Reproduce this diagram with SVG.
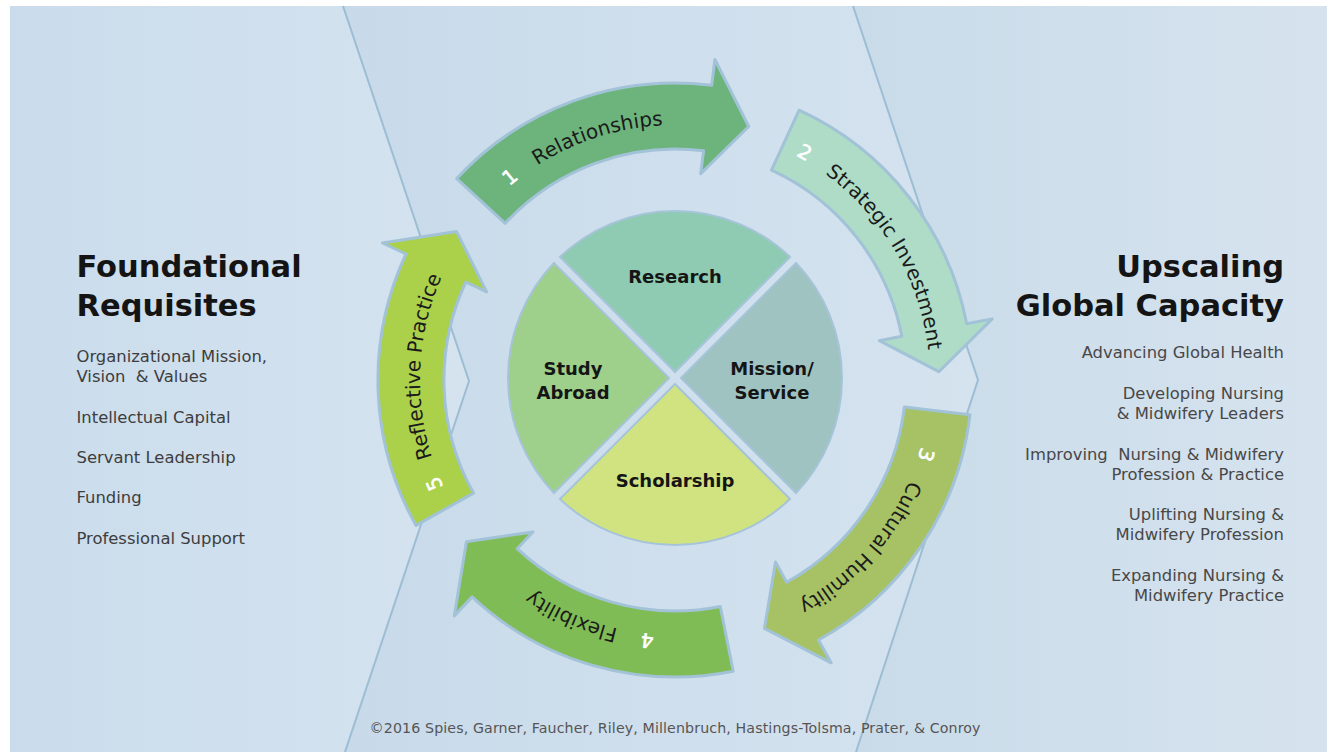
<svg xmlns="http://www.w3.org/2000/svg" width="1328" height="752" viewBox="0 0 1328 752">
<defs>
<style>
.f{font-family:"DejaVu Sans","Liberation Sans",sans-serif}
.title{font-weight:bold;font-size:30.5px;fill:#141414}
.item{font-size:16.4px;fill:#3d3d3d}
.itemR{font-size:16.4px;fill:#484848;text-anchor:end}
.pie{font-weight:bold;font-size:18px;fill:#151515;text-anchor:middle}
.lbl{font-size:20px;fill:#1a1a1a}
.num{font-size:20px;fill:#ffffff;stroke:#ffffff;stroke-width:0.6}
.arrow{stroke:#a2c2d8;stroke-width:3;stroke-linejoin:round}
.slice{stroke:#a6c4d9;stroke-width:2}
.edge{fill:none;stroke:#9cbdd3;stroke-width:2}
.copy{font-size:14.2px;fill:#555555;text-anchor:middle}
</style>
<linearGradient id="gL" gradientUnits="userSpaceOnUse" x1="10" y1="0" x2="470" y2="0">
<stop offset="0" stop-color="#cadcec"/><stop offset="1" stop-color="#d5e3ef"/>
</linearGradient>
<linearGradient id="gM" gradientUnits="userSpaceOnUse" x1="345" y1="0" x2="978" y2="0">
<stop offset="0" stop-color="#c8daea"/><stop offset="1" stop-color="#d5e3ef"/>
</linearGradient>
<linearGradient id="gR" gradientUnits="userSpaceOnUse" x1="856" y1="0" x2="1326" y2="0">
<stop offset="0" stop-color="#c9dbe9"/><stop offset="1" stop-color="#d6e3ef"/>
</linearGradient>
<path id="ring" d="M930,380 A255,255 0 1 1 420,380 A255,255 0 1 1 930,380"/>
</defs>

<rect x="0" y="0" width="1328" height="752" fill="#ffffff"/>
<g id="background">
<polygon points="10,6 343,6 469,381 345,752 10,752" fill="url(#gL)"/>
<polygon points="343,6 853,6 978,380 856,752 345,752 469,381" fill="url(#gM)"/>
<polygon points="853,6 1327,6 1327,752 856,752 978,380" fill="url(#gR)"/>
<polyline class="edge" points="343,6 469,381 345,752"/>
<polyline class="edge" points="853,6 978,380 856,752"/>
</g>

<g id="connectors">
<g id="arrow-5">
<path class="arrow" fill="#abd04a" d="M416.0,525.4 A297,297 0 0 1 406.0,254.0 L382.5,243.0 L456.6,231.6 L486.6,291.8 L465.8,282.0 A231,231 0 0 0 473.5,493.1 Z"/>
</g>
<g id="arrow-1">
<path class="arrow" fill="#6cb47c" d="M456.7,178.6 A297,297 0 0 1 711.7,85.3 L714.9,59.5 L748.7,126.5 L700.7,173.6 L703.6,150.8 A231,231 0 0 0 505.2,223.3 Z"/>
</g>
<g id="arrow-2">
<path class="arrow" fill="#aedcc6" d="M799.1,110.2 A297,297 0 0 1 966.7,323.8 L992.2,318.9 L938.9,371.7 L879.3,340.7 L901.8,336.3 A231,231 0 0 0 771.5,170.1 Z"/>
</g>
<g id="arrow-3">
<path class="arrow" fill="#a6c264" d="M970.0,414.7 A297,297 0 0 1 818.5,640.0 L831.1,662.8 L764.4,628.4 L775.5,562.1 L786.6,582.2 A231,231 0 0 0 904.4,407.0 Z"/>
</g>
<g id="arrow-4">
<path class="arrow" fill="#80bc55" d="M733.2,671.2 A297,297 0 0 1 472.1,596.9 L454.3,615.9 L466.4,541.8 L532.9,531.9 L517.2,548.7 A231,231 0 0 0 720.3,606.5 Z"/>
</g>
</g>

<g id="arrow-labels" class="f">
<text class="num" text-anchor="middle"><textPath href="#ring" startOffset="1027.2">1</textPath></text>
<text class="lbl" text-anchor="middle"><textPath href="#ring" startOffset="1122.4">Relationships</textPath></text>
<text class="num" text-anchor="middle"><textPath href="#ring" startOffset="1333.4">2</textPath></text>
<text class="lbl" text-anchor="middle"><textPath href="#ring" startOffset="1466.5">Strategic Investment</textPath></text>
<text class="num" text-anchor="middle"><textPath href="#ring" startOffset="73.9">3</textPath></text>
<text class="lbl" text-anchor="middle"><textPath href="#ring" startOffset="187.4">Cultural Humility</textPath></text>
<text class="num" text-anchor="middle"><textPath href="#ring" startOffset="427.7">4</textPath></text>
<text class="lbl" text-anchor="middle"><textPath href="#ring" startOffset="505.6">Flexibility</textPath></text>
<text class="num" text-anchor="middle"><textPath href="#ring" startOffset="697.0">5</textPath></text>
<text class="lbl" text-anchor="middle"><textPath href="#ring" startOffset="814.5">Reflective Practice</textPath></text>
</g>

<g id="research">
<path class="slice" fill="#8fcbb3" d="M675,372 L559.95,256.95 A167,167 0 0 1 790.05,256.95 Z"/>
<text class="f pie" x="675" y="283">Research</text>
</g>
<g id="mission-service">
<path class="slice" fill="#9fc3c1" d="M681,378 L796.05,262.95 A167,167 0 0 1 796.05,493.05 Z"/>
<text class="f pie" x="772" y="375">Mission/</text>
<text class="f pie" x="772" y="399">Service</text>
</g>
<g id="scholarship">
<path class="slice" fill="#d0e380" d="M675,384 L790.05,499.05 A167,167 0 0 1 559.95,499.05 Z"/>
<text class="f pie" x="675" y="487">Scholarship</text>
</g>
<g id="study-abroad">
<path class="slice" fill="#9ecf8b" d="M669,378 L553.95,493.05 A167,167 0 0 1 553.95,262.95 Z"/>
<text class="f pie" x="573" y="375">Study</text>
<text class="f pie" x="573" y="399">Abroad</text>
</g>

<g id="foundational-requisites" class="f">
<text class="title" x="76.5" y="277">Foundational</text>
<text class="title" x="76.5" y="316">Requisites</text>
<text class="item" x="76.5" y="362">Organizational Mission,</text>
<text class="item" x="76.5" y="382" xml:space="preserve">Vision  &amp; Values</text>
<text class="item" x="76.5" y="423">Intellectual Capital</text>
<text class="item" x="76.5" y="463">Servant Leadership</text>
<text class="item" x="76.5" y="503">Funding</text>
<text class="item" x="76.5" y="544">Professional Support</text>
</g>

<g id="upscaling-global-capacity" class="f">
<text class="title" x="1284" y="277" text-anchor="end">Upscaling</text>
<text class="title" x="1284" y="316" text-anchor="end">Global Capacity</text>
<text class="itemR" x="1284" y="357.5">Advancing Global Health</text>
<text class="itemR" x="1284" y="398.5">Developing Nursing</text>
<text class="itemR" x="1284" y="418.5">&amp; Midwifery Leaders</text>
<text class="itemR" x="1284" y="459.5" xml:space="preserve">Improving  Nursing &amp; Midwifery</text>
<text class="itemR" x="1284" y="479.5">Profession &amp; Practice</text>
<text class="itemR" x="1284" y="520">Uplifting Nursing &amp;</text>
<text class="itemR" x="1284" y="540">Midwifery Profession</text>
<text class="itemR" x="1284" y="581">Expanding Nursing &amp;</text>
<text class="itemR" x="1284" y="601">Midwifery Practice</text>
</g>

<g id="copyright" class="f">
<text class="copy" x="675" y="733" textLength="611" lengthAdjust="spacing">©2016 Spies, Garner, Faucher, Riley, Millenbruch, Hastings-Tolsma, Prater, &amp; Conroy</text>
</g>
</svg>
